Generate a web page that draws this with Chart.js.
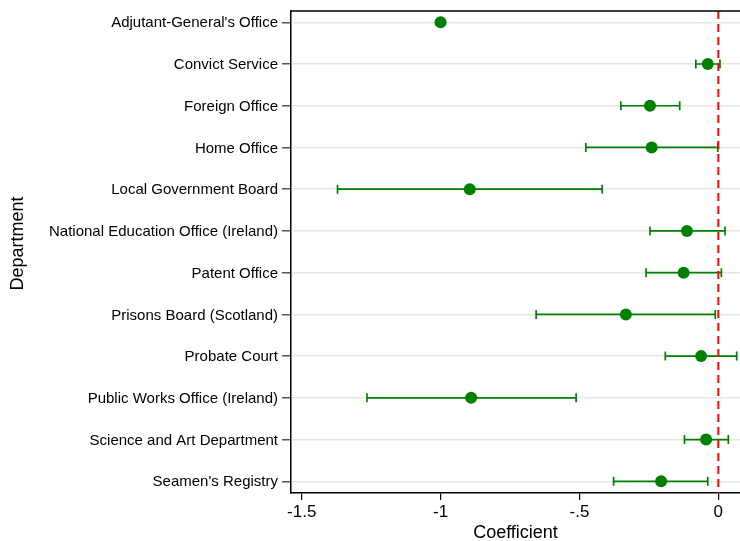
<!DOCTYPE html>
<html>
<head>
<meta charset="utf-8">
<script src="https://cdn.jsdelivr.net/npm/chart.js@4/dist/chart.umd.min.js"></script>
<style>
  html, body { margin: 0; padding: 0; background: #fff; }
  canvas { display: block; }
</style>
</head>
<body>
<canvas id="chart" width="740" height="541"></canvas>
<script>
// Department estimates with 95% confidence bounds
const departments = [
  "Adjutant-General's Office",
  "Convict Service",
  "Foreign Office",
  "Home Office",
  "Local Government Board",
  "National Education Office (Ireland)",
  "Patent Office",
  "Prisons Board (Scotland)",
  "Probate Court",
  "Public Works Office (Ireland)",
  "Science and Art Department",
  "Seamen's Registry"
];
const coefficients = [-1.0, -0.038, -0.246, -0.240, -0.895, -0.113, -0.125, -0.333, -0.062, -0.890, -0.044, -0.206];
const ciLower      = [null, -0.081, -0.351, -0.477, -1.371, -0.246, -0.260, -0.656, -0.191, -1.265, -0.122, -0.377];
const ciUpper      = [null,  0.006, -0.139, -0.002, -0.418,  0.024,  0.011, -0.011,  0.066, -0.512,  0.036, -0.038];
const xTickValues = [-1.5, -1, -0.5, 0];
const xTickLabels = ["-1.5", "-1", "-.5", "0"];
const referenceValue = 0;
const yTitle = "Department";

const GREEN = "rgb(0,128,0)";
const FONT = "'Liberation Sans', Arial, Helvetica, sans-serif";

// Confidence-interval whiskers and the dashed zero line, drawn beneath the points
const intervalPlugin = {
  id: "intervals",
  beforeDatasetsDraw(chart) {
    const { ctx, chartArea, scales } = chart;
    const xs = scales.x, ys = scales.y;
    ctx.save();
    ctx.beginPath();
    ctx.rect(chartArea.left, chartArea.top, chartArea.right - chartArea.left, chartArea.bottom - chartArea.top);
    ctx.clip();
    ctx.strokeStyle = GREEN;
    ctx.lineWidth = 1.7;
    const cap = 4.5;
    departments.forEach((d, i) => {
      if (ciLower[i] === null || ciUpper[i] === null) return;
      const y = ys.getPixelForValue(i);
      const x1 = xs.getPixelForValue(ciLower[i]);
      const x2 = xs.getPixelForValue(ciUpper[i]);
      ctx.beginPath();
      ctx.moveTo(x1, y); ctx.lineTo(x2, y);
      ctx.moveTo(x1, y - cap); ctx.lineTo(x1, y + cap);
      ctx.moveTo(x2, y - cap); ctx.lineTo(x2, y + cap);
      ctx.stroke();
    });
    // reference line
    const x0 = xs.getPixelForValue(referenceValue);
    ctx.strokeStyle = "rgb(255,0,0)";
    ctx.lineWidth = 2;
    ctx.setLineDash([8, 5]);
    ctx.beginPath();
    ctx.moveTo(x0, chartArea.top);
    ctx.lineTo(x0, chartArea.bottom);
    ctx.stroke();
    ctx.restore();
  },
  afterDraw(chart) {
    const { ctx, chartArea } = chart;
    ctx.save();
    // top edge of the plot frame
    ctx.strokeStyle = "#000";
    ctx.lineWidth = 1.5;
    ctx.beginPath();
    ctx.moveTo(chartArea.left, chartArea.top);
    ctx.lineTo(chartArea.right, chartArea.top);
    ctx.stroke();
    // vertical axis title
    ctx.translate(18, 243.5);
    ctx.rotate(-Math.PI / 2);
    ctx.fillStyle = "#000";
    ctx.font = "18px " + FONT;
    ctx.textAlign = "center";
    ctx.textBaseline = "middle";
    ctx.fillText(yTitle, 0, 0);
    ctx.restore();
  }
};

new Chart(document.getElementById("chart"), {
  type: "scatter",
  data: {
    datasets: [{
      data: departments.map((d, i) => ({ x: coefficients[i], y: i })),
      backgroundColor: GREEN,
      borderColor: GREEN,
      pointRadius: 6,
      pointHoverRadius: 6,
      borderWidth: 0
    }]
  },
  options: {
    responsive: false,
    animation: false,
    events: [],
    layout: { autoPadding: false, padding: { top: 11, right: 0, left: 0, bottom: 0 } },
    plugins: { legend: { display: false }, tooltip: { enabled: false } },
    scales: {
      x: {
        type: "linear",
        min: -1.5385,
        max: 0.078,
        afterBuildTicks(scale) { scale.ticks = xTickValues.map(v => ({ value: v })); },
        afterFit(scale) {
          scale.height = 48;
          scale.paddingLeft = 0; scale.paddingRight = 0;
        },
        ticks: {
          callback(value) { return xTickLabels[xTickValues.indexOf(value)]; },
          font: { family: FONT, size: 17 },
          color: "#000",
          padding: 2,
          maxRotation: 0,
          autoSkip: false
        },
        grid: { drawOnChartArea: false, tickLength: 7, tickColor: "#000", lineWidth: 1.2 },
        border: { display: true, color: "#000", width: 1.5 },
        title: {
          display: true,
          text: "Coefficient",
          font: { family: FONT, size: 18, lineHeight: 1 },
          color: "#000",
          padding: { top: 0, bottom: -1 }
        }
      },
      y: {
        type: "linear",
        reverse: true,
        min: -0.27,
        max: 11.28,
        afterBuildTicks(scale) { scale.ticks = departments.map((d, i) => ({ value: i })); },
        afterFit(scale) {
          scale.width = 291;
          scale.paddingTop = 0; scale.paddingBottom = 0;
        },
        ticks: {
          callback(value) { return departments[value]; },
          font: { family: FONT, size: 15 },
          color: "#000",
          padding: 4,
          labelOffset: 1,
          autoSkip: false
        },
        grid: { color: "#e6e6e6", lineWidth: 1.5, tickColor: "#555", tickLength: 9 },
        border: { display: true, color: "#000", width: 1.5 }
      }
    }
  },
  plugins: [intervalPlugin]
});
</script>
</body>
</html>
